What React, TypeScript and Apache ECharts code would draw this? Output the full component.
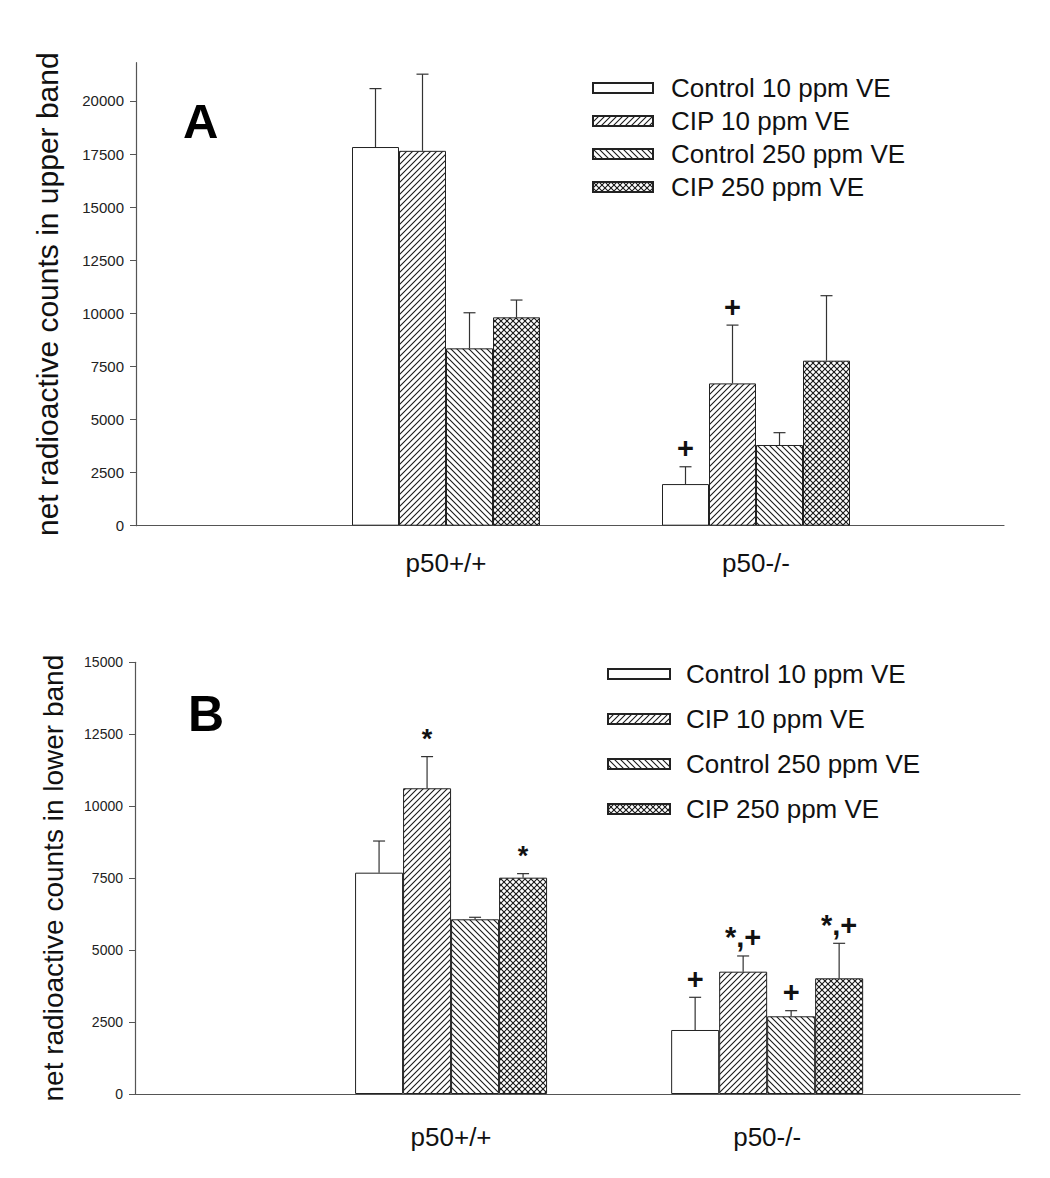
import React, { useEffect, useRef } from "react";
import * as echarts from "echarts";

// ---- data ----
const categories = ["p50+/+", "p50-/-"];
const groupPositions = [1, 2];
const seriesNames = ["Control 10 ppm VE", "CIP 10 ppm VE", "Control 250 ppm VE", "CIP 250 ppm VE"];

// Panel A: upper band (mean per series, per group) and SEM
const upperMeans = [
  [17830, 1960],
  [17650, 6700],
  [8350, 3800],
  [9810, 7770],
];
const upperErrors = [
  [2750, 815],
  [3610, 2745],
  [1676, 580],
  [815, 3060],
];
// Panel B: lower band
const lowerMeans = [
  [7690, 2224],
  [10623, 4250],
  [6070, 2700],
  [7517, 4020],
];
const lowerErrors = [
  [1100, 1136],
  [1100, 546],
  [70, 195],
  [140, 1216],
];

// annotations: [series index, group index, text]
const upperMarks: [number, number, string][] = [
  [0, 1, "+"],
  [1, 1, "+"],
];
const lowerMarks: [number, number, string][] = [
  [1, 0, "*"],
  [3, 0, "*"],
  [0, 1, "+"],
  [1, 1, "*,+"],
  [2, 1, "+"],
  [3, 1, "*,+"],
];

const upperTicks = [0, 2500, 5000, 7500, 10000, 12500, 15000, 17500, 20000];
const lowerTicks = [0, 2500, 5000, 7500, 10000, 12500, 15000];

const FONT = "'Liberation Sans', Arial, Helvetica, sans-serif";

function makePattern(kind: string): HTMLCanvasElement {
  const c = document.createElement("canvas");
  const s = 6;
  c.width = s;
  c.height = s;
  const ctx = c.getContext("2d")!;
  ctx.fillStyle = "#ffffff";
  ctx.fillRect(0, 0, s, s);
  ctx.strokeStyle = "#1a1a1a";
  ctx.lineWidth = 1.1;
  const fwd = () => {
    ctx.beginPath();
    ctx.moveTo(-1, 1); ctx.lineTo(1, -1);
    ctx.moveTo(-1, s + 1); ctx.lineTo(s + 1, -1);
    ctx.moveTo(s - 1, s + 1); ctx.lineTo(s + 1, s - 1);
    ctx.stroke();
  };
  const back = () => {
    ctx.beginPath();
    ctx.moveTo(-1, s - 1); ctx.lineTo(1, s + 1);
    ctx.moveTo(-1, -1); ctx.lineTo(s + 1, s + 1);
    ctx.moveTo(s - 1, -1); ctx.lineTo(s + 1, 1);
    ctx.stroke();
  };
  if (kind === "fwd") fwd();
  if (kind === "back") back();
  if (kind === "cross") { fwd(); back(); }
  return c;
}

export default function App() {
  const ref = useRef<HTMLDivElement>(null);

  useEffect(() => {
    if (!ref.current) return;
    const chart = echarts.init(ref.current, undefined, { renderer: "svg" });

    const fills: any[] = [
      "#ffffff",
      { image: makePattern("fwd"), repeat: "repeat" },
      { image: makePattern("back"), repeat: "repeat" },
      { image: makePattern("cross"), repeat: "repeat" },
    ];

    const panels = [
      { means: upperMeans, errors: upperErrors, marks: upperMarks, barW: 47 },
      { means: lowerMeans, errors: lowerErrors, marks: lowerMarks, barW: 48 },
    ];

    const series: any[] = [];
    panels.forEach((p, pi) => {
      seriesNames.forEach((name, si) => {
        series.push({
          type: "bar",
          name,
          xAxisIndex: pi,
          yAxisIndex: pi,
          barWidth: p.barW,
          barGap: "0%",
          itemStyle: { color: fills[si], borderColor: "#222", borderWidth: 1 },
          data: groupPositions.map((g, gi) => [g, p.means[si][gi]]),
          z: 2,
        });
      });
      const errData: any[] = [];
      seriesNames.forEach((_, si) => {
        groupPositions.forEach((g, gi) => {
          errData.push([g, si, p.means[si][gi], p.errors[si][gi]]);
        });
      });
      const barW = p.barW;
      series.push({
        type: "custom",
        name: "err" + pi,
        xAxisIndex: pi,
        yAxisIndex: pi,
        z: 3,
        silent: true,
        data: errData,
        renderItem: (params: any, api: any) => {
          const g = api.value(0);
          const si = api.value(1);
          const m = api.value(2);
          const e = api.value(3);
          const base = api.coord([g, m]);
          const top = api.coord([g, m + e]);
          const x = base[0] + (si - 1.5) * barW;
          const style = { stroke: "#333", lineWidth: 1.2 };
          return {
            type: "group",
            children: [
              { type: "line", shape: { x1: x, y1: base[1], x2: x, y2: top[1] }, style },
              { type: "line", shape: { x1: x - 6, y1: top[1], x2: x + 6, y2: top[1] }, style },
            ],
          };
        },
      });
      const markData = p.marks.map(([si, gi, t]) => [
        groupPositions[gi], si, p.means[si][gi] + p.errors[si][gi], t,
      ]);
      series.push({
        type: "custom",
        name: "marks" + pi,
        xAxisIndex: pi,
        yAxisIndex: pi,
        z: 4,
        silent: true,
        data: markData,
        renderItem: (params: any, api: any) => {
          const g = api.value(0);
          const si = api.value(1);
          const v = api.value(2);
          const t = markData[params.dataIndex][3];
          const pt = api.coord([g, v]);
          const x = pt[0] + (si - 1.5) * barW;
          return {
            type: "text",
            x,
            y: pt[1] - 4,
            style: {
              text: t,
              fontFamily: FONT,
              fontSize: t === "*" ? 27 : 29,
              fontWeight: "bold",
              fill: "#111",
              align: "center",
              verticalAlign: "bottom",
            },
          };
        },
      });
    });

    const xAxisBase = (margin: number) => ({
      type: "value",
      min: 0,
      max: 2.8,
      axisLine: { show: true, lineStyle: { color: "#555", width: 1.2 } },
      axisTick: { show: false },
      splitLine: { show: false },
      axisLabel: {
        customValues: groupPositions,
        formatter: (v: number) => categories[groupPositions.indexOf(v)] ?? "",
        fontFamily: FONT,
        fontSize: 26,
        color: "#111",
        margin,
      },
    });

    const yAxisBase = (max: number, ticks: number[], name: string, nameSize: number, nameGap: number, labelSize: number) => ({
      type: "value",
      min: 0,
      max,
      interval: 2500,
      name,
      nameLocation: "middle",
      nameGap,
      nameTextStyle: { fontFamily: FONT, fontSize: nameSize, color: "#111" },
      axisLine: { show: true, lineStyle: { color: "#555", width: 1.2 } },
      axisTick: { show: true, inside: false, length: 6, customValues: ticks, lineStyle: { color: "#555" } },
      splitLine: { show: false },
      axisLabel: {
        customValues: ticks,
        formatter: (v: number) => String(v),
        fontFamily: FONT,
        fontSize: labelSize,
        color: "#222",
        margin: 12,
      },
    });

    const legendBase = (left: number, top: number, itemWidth: number, gap: number, pad: number) => ({
      orient: "vertical",
      left,
      top,
      padding: 0,
      icon: "rect",
      itemWidth,
      itemHeight: 10,
      itemGap: gap,
      selectedMode: false,
      data: seriesNames,
      textStyle: { fontFamily: FONT, fontSize: 26, color: "#111", padding: [0, 0, 0, pad] },
    });

    chart.setOption({
      animation: false,
      backgroundColor: "#ffffff",
      grid: [
        { left: 136, right: 46, top: 62.7, bottom: 1178 - 525.7 },
        { left: 135, right: 30, top: 662.3, bottom: 1178 - 1094 },
      ],
      xAxis: [
        { ...xAxisBase(24), gridIndex: 0 },
        { ...xAxisBase(30), gridIndex: 1 },
      ],
      yAxis: [
        { ...yAxisBase(21800, upperTicks, "net radioactive counts in upper band", 30, 74, 15), gridIndex: 0 },
        { ...yAxisBase(15000, lowerTicks, "net radioactive counts in lower band", 28, 68, 14), gridIndex: 1 },
      ],
      legend: [legendBase(592, 75, 60, 7, 13), legendBase(607, 661, 62, 19, 11)],
      graphic: [
        {
          type: "text",
          left: 183,
          top: 96,
          style: { text: "A", fontFamily: FONT, fontSize: 49, fontWeight: "bold", fill: "#000" },
        },
        {
          type: "text",
          left: 188,
          top: 689,
          style: { text: "B", fontFamily: FONT, fontSize: 50, fontWeight: "bold", fill: "#000" },
        },
      ],
      series,
    });

    return () => chart.dispose();
  }, []);

  return (
    <div
      ref={ref}
      style={{ position: "fixed", left: 0, top: 0, width: 1050, height: 1178, background: "#fff" }}
    />
  );
}
